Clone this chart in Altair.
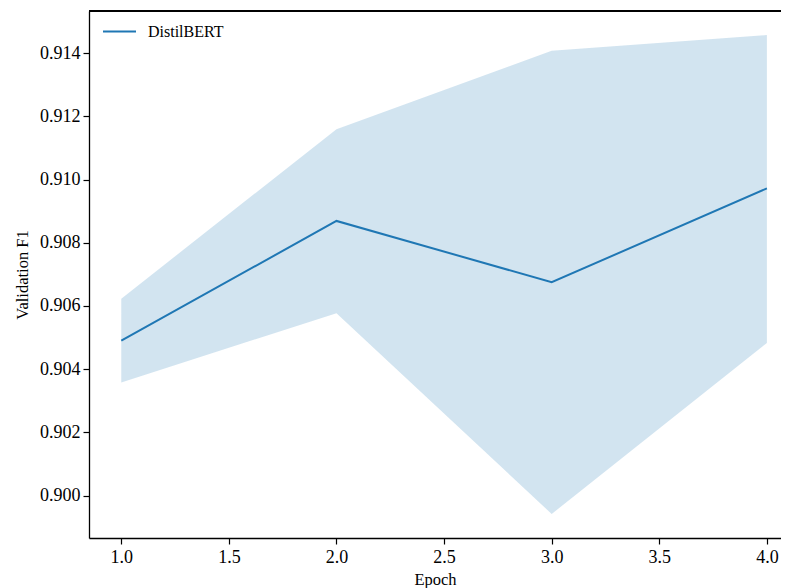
import altair as alt
import pandas as pd

epochs = [1, 2, 3, 4]
f1_mean = [0.90490, 0.90869, 0.90675, 0.90972]
f1_lower = [0.90358, 0.90577, 0.89942, 0.90483]
f1_upper = [0.90623, 0.91159, 0.91407, 0.91457]
series = ["DistilBERT"] * 4
x_ticks = [1.0, 1.5, 2.0, 2.5, 3.0, 3.5, 4.0]
y_ticks = [0.900, 0.902, 0.904, 0.906, 0.908, 0.910, 0.912, 0.914]
x_domain = [0.85, 4.0656]
y_domain = [0.89866, 0.91533]

df = pd.DataFrame({"epoch": epochs, "mean": f1_mean, "lower": f1_lower,
                   "upper": f1_upper, "model": series})

FONT = "Liberation Serif"
LFS = 18
TFS = 16.5
BLUE = "#1f77b4"

xscale = alt.Scale(domain=x_domain, nice=False, zero=False)
yscale = alt.Scale(domain=y_domain, nice=False, zero=False)

xaxis = alt.Axis(values=x_ticks, format=".1f", title="Epoch", grid=False,
                 domainColor="black", domainWidth=1.3, tickColor="black",
                 tickWidth=1.2, tickSize=6, labelPadding=4, titlePadding=5,
                 labelFlush=False)
yaxis = alt.Axis(values=y_ticks, format=".3f", title="Validation F1", grid=False,
                 domainColor="black", domainWidth=1.3, tickColor="black",
                 tickWidth=1.2, tickSize=6, labelPadding=3, titlePadding=9)

band = alt.Chart(df).mark_area(color=BLUE, opacity=0.2).encode(
    x=alt.X("epoch:Q", scale=xscale, axis=xaxis),
    y=alt.Y("lower:Q", scale=yscale, axis=yaxis),
    y2="upper:Q",
)

line = alt.Chart(df).mark_line(strokeWidth=2).encode(
    x=alt.X("epoch:Q", scale=xscale, axis=xaxis),
    y=alt.Y("mean:Q", scale=yscale, axis=yaxis),
    color=alt.Color("model:N", scale=alt.Scale(range=[BLUE]),
                    legend=alt.Legend(title=None, orient="none", legendX=13,
                                      legendY=3, symbolType="stroke",
                                      symbolSize=1089, symbolStrokeWidth=2,
                                      labelOffset=11, labelFont=FONT,
                                      labelFontSize=16, labelColor="black")),
)

top_spine = alt.Chart(df).mark_rule(color="black", strokeWidth=1.3).encode(
    x=alt.datum(x_domain[0]),
    x2=alt.datum(x_domain[1]),
    y=alt.datum(y_domain[1]),
)

chart = alt.layer(band, line, top_spine).properties(
    width=692, height=527,
    autosize=alt.AutoSizeParams(type="none"),
    padding={"left": 81, "top": 3, "right": 0, "bottom": 50},
    background="white",
).configure_view(stroke=None).configure_axis(
    labelFont=FONT, labelFontSize=LFS, labelColor="black",
    titleFont=FONT, titleFontSize=TFS, titleColor="black", titleFontWeight="normal",
)

chart.save("out.html", embed_options={"renderer": "svg", "actions": False})
